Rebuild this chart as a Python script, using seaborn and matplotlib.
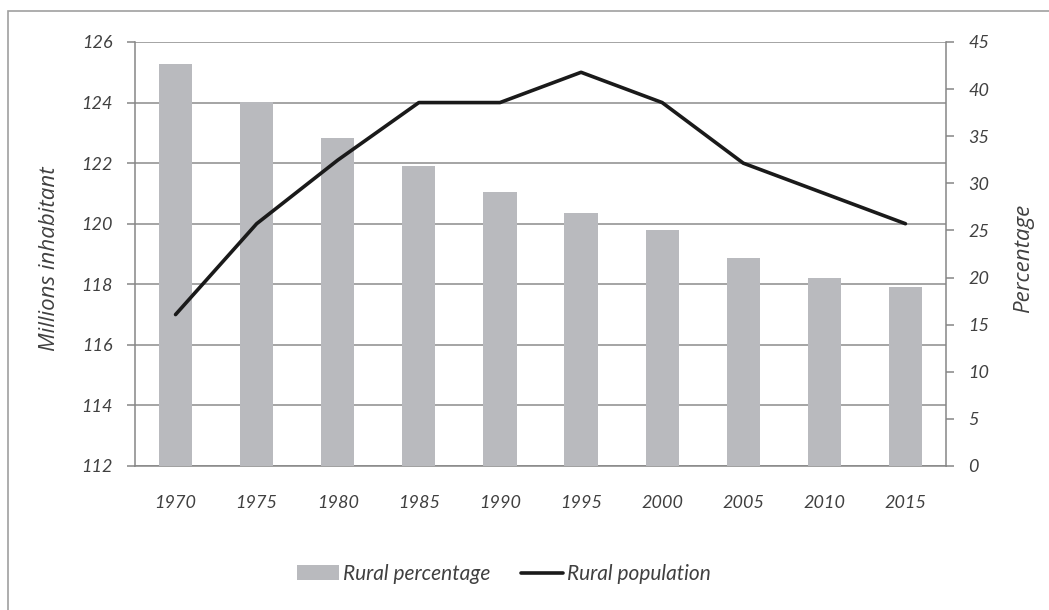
import numpy as np
import matplotlib
matplotlib.use("Agg")
import matplotlib.pyplot as plt
import seaborn as sns
from matplotlib.patches import Rectangle, Patch
from matplotlib.lines import Line2D

# data
years = ["1970", "1975", "1980", "1985", "1990", "1995", "2000", "2005", "2010", "2015"]
rural_pct = [42.7, 38.6, 34.8, 31.8, 29.1, 26.8, 25.0, 22.1, 19.9, 19.0]
rural_pop = [117.0, 120.0, 122.1, 124.0, 124.0, 125.0, 124.0, 122.0, 121.0, 120.0]
pop_ticks = [112, 114, 116, 118, 120, 122, 124, 126]
pct_ticks = [0, 5, 10, 15, 20, 25, 30, 35, 40, 45]

sns.set_style("white")
plt.rcParams['font.family'] = ['Lato', 'DejaVu Sans']
plt.rcParams['font.style'] = 'italic'

text_col = "#404040"
axis_col = "#868686"
bar_col = "#b9babe"
line_col = "#1a1a1a"

fig = plt.figure(figsize=(10.49, 6.10), dpi=100)
ax = fig.add_axes([135/1049, 1-466/610, (946-135)/1049, (466-42)/610])
ax2 = ax.twinx()   # percentage bars
ax3 = ax.twinx()   # population line, drawn on top

# bars
sns.barplot(x=years, y=rural_pct, ax=ax2, color=bar_col, width=0.41,
            saturation=1, edgecolor="none")
# line
xpos = np.arange(len(years))
sns.lineplot(x=xpos, y=rural_pop, ax=ax3, color=line_col, linewidth=2.6,
             solid_capstyle="round")

# left axis (population) with grid
ax.set_ylim(112, 126)
ax.set_yticks(pop_ticks)
ax.set_xlim(-0.5, len(years) - 0.5)
ax.grid(axis="y", color="#8c8c8c", linewidth=1.1)
ax.set_axisbelow(True)
ax3.set_ylim(112, 126)
ax3.axis("off")

ax2.set_ylim(0, 45)
ax2.set_yticks(pct_ticks)
ax2.set_ylabel("")
ax2.set_xlabel("")

# x ticks: labels at centers, tick marks at boundaries
ax.set_xticks(xpos)
ax.set_xticklabels(years)
ax.set_xticks(np.arange(len(years) + 1) - 0.5, minor=True)
ax.tick_params(axis="x", which="major", length=0, pad=21, labelsize=13, labelcolor=text_col)
ax.tick_params(axis="x", which="minor", length=6, width=1.1, color=axis_col, direction="out")
ax.tick_params(axis="y", length=6, width=1.1, color=axis_col, pad=10, labelsize=13,
               labelcolor=text_col, left=True)
ax2.tick_params(axis="y", length=6, width=1.1, color=axis_col, pad=10, labelsize=13,
                labelcolor=text_col, right=True)

for a in (ax, ax2):
    for s in a.spines.values():
        s.set_visible(False)
ax.spines["left"].set_visible(True)
ax.spines["bottom"].set_visible(True)
ax2.spines["right"].set_visible(True)
for s in (ax.spines["left"], ax.spines["bottom"], ax2.spines["right"]):
    s.set_color(axis_col)
    s.set_linewidth(1.1)

label_font = ['Open Sans', 'DejaVu Sans']
ax.set_ylabel("Millions inhabitant", fontsize=16, color=text_col, family=label_font)
ax.yaxis.set_label_coords(-0.093, 0.49)
ax2.set_ylabel("Percentage", fontsize=16, color=text_col, family=label_font)
ax2.yaxis.set_label_coords(1.083, 0.49)

# legend
handles = [Patch(facecolor=bar_col, edgecolor="none"),
           Line2D([0], [0], color=line_col, linewidth=2.6)]
fig.legend(handles, ["Rural percentage", "Rural population"], loc="center",
           bbox_to_anchor=(504/1049, 1-574/610), ncol=2, frameon=False,
           fontsize=15, handlelength=2.0, handletextpad=0.2, columnspacing=1.5,
           labelcolor=text_col)

# outer frame
fig.patches.append(Rectangle((8/1049, -0.05), 1.2, 1-11/610 + 0.05,
                             transform=fig.transFigure, fill=False,
                             edgecolor="#a0a0a0", linewidth=1.2))

fig.savefig("out.png", dpi=100)
